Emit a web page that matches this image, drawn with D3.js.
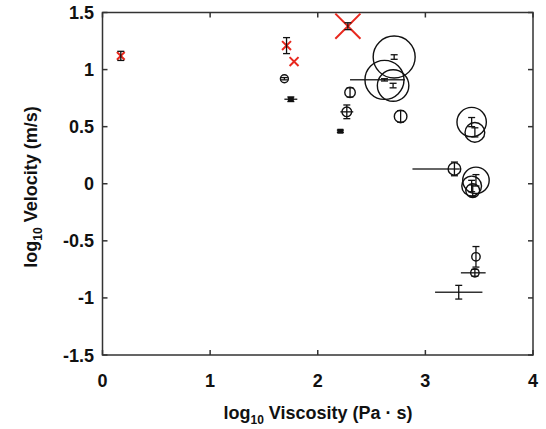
<!DOCTYPE html>
<html lang="en">
  <head>
    <meta charset="UTF-8" />
    <title>Velocity vs viscosity</title>
    <style>
      body { margin: 0; background: #fff; }
      text { font-family: "Liberation Sans", Arial, sans-serif; font-weight: bold; fill: #111; }
    </style>
    <script src="https://d3js.org/d3.v7.min.js"></script>
  </head>
  <body>
    <svg width="546" height="429"></svg>
    <script>
      // red crosses
      var crossVisc = [0.17, 1.71, 1.78, 2.28];
      var crossVel = [1.12, 1.21, 1.07, 1.38];
      var crossVelErr = [0.04, 0.07, 0.0, 0.03];
      var crossMag = [0.25, 0.3, 0.3, 1.0];

      // black points (kind: o = circle, s = small square, n = none)
      var ptVisc = [1.69, 1.75, 2.30, 2.27, 2.21, 2.71, 2.62, 2.70, 2.77, 3.43, 3.46, 3.27, 3.47, 3.43, 3.44, 3.47, 3.46, 3.31];
      var ptVel = [0.92, 0.74, 0.80, 0.63, 0.46, 1.11, 0.91, 0.86, 0.59, 0.54, 0.45, 0.13, 0.03, -0.02, -0.06, -0.64, -0.78, -0.95];
      var ptVelErr = [0.01, 0.02, 0.04, 0.06, 0.01, 0.02, 0.01, 0.02, 0.05, 0.04, 0.04, 0.06, 0.05, 0.05, 0.05, 0.09, 0.03, 0.06];
      var ptViscErrLo = [0, 0.06, 0, 0.06, 0, 0, 0.32, 0, 0, 0, 0, 0.39, 0, 0, 0, 0, 0.13, 0.22];
      var ptViscErrHi = [0, 0.06, 0, 0.06, 0, 0, 0.19, 0, 0, 0, 0, 0.05, 0, 0, 0, 0, 0.10, 0.22];
      var ptMag = [0.19, 0.1, 0.25, 0.23, 0.1, 1.0, 0.93, 0.75, 0.3, 0.7, 0.47, 0.3, 0.63, 0.47, 0.33, 0.2, 0.2, 0];
      var ptKind = ["o", "s", "o", "o", "s", "o", "o", "o", "o", "o", "o", "o", "o", "o", "o", "o", "o", "n"];

      var xTicks = [0, 1, 2, 3, 4];
      var yTicks = [-1.5, -1, -0.5, 0, 0.5, 1, 1.5];

      window.onload = function () {
        var svg = d3.select("svg");
        var pLeft = 102.5, pRight = 533, pTop = 12.5, pBottom = 355;

        var x = d3.scaleLinear().domain([0, 4]).range([pLeft, pRight]);
        var y = d3.scaleLinear().domain([-1.5, 1.5]).range([pBottom, pTop]);
        var r = d3.scaleLinear().domain([0, 1]).range([0, 21]);

        var ink = "#111";

        // frame + inward ticks
        var axisG = svg.append("g");
        axisG.append("rect")
          .attr("x", pLeft).attr("y", pTop)
          .attr("width", pRight - pLeft).attr("height", pBottom - pTop)
          .attr("fill", "none").attr("stroke", "#333").attr("stroke-width", 1.5);

        xTicks.forEach(function (t) {
          axisG.append("line").attr("x1", x(t)).attr("x2", x(t)).attr("y1", pBottom).attr("y2", pBottom - 5).attr("stroke", "#333").attr("stroke-width", 1.5);
          axisG.append("line").attr("x1", x(t)).attr("x2", x(t)).attr("y1", pTop).attr("y2", pTop + 5).attr("stroke", "#333").attr("stroke-width", 1.5);
          axisG.append("text").attr("x", x(t)).attr("y", 387).attr("text-anchor", "middle").attr("font-size", 18).text(t);
        });
        yTicks.forEach(function (t) {
          axisG.append("line").attr("x1", pLeft).attr("x2", pLeft + 5).attr("y1", y(t)).attr("y2", y(t)).attr("stroke", "#333").attr("stroke-width", 1.5);
          axisG.append("line").attr("x1", pRight).attr("x2", pRight - 5).attr("y1", y(t)).attr("y2", y(t)).attr("stroke", "#333").attr("stroke-width", 1.5);
          axisG.append("text").attr("x", 94).attr("y", y(t) + 6.5).attr("text-anchor", "end").attr("font-size", 18).text(t);
        });

        // axis titles
        var xt = svg.append("text").attr("x", 318).attr("y", 419).attr("text-anchor", "middle").attr("font-size", 18);
        xt.append("tspan").text("log");
        xt.append("tspan").attr("font-size", 12).attr("dy", 5).text("10");
        xt.append("tspan").attr("dy", -5).text(" Viscosity (Pa \u00b7 s)");

        var yt = svg.append("text").attr("transform", "translate(37,187) rotate(-90)").attr("text-anchor", "middle").attr("font-size", 18);
        yt.append("tspan").text("log");
        yt.append("tspan").attr("font-size", 12).attr("dy", 5).text("10");
        yt.append("tspan").attr("dy", -5).text(" Velocity (m/s)");

        var plot = svg.append("g");

        function errBar(cx, cy, e) {
          if (e <= 0) return;
          plot.append("line").attr("x1", x(cx)).attr("x2", x(cx)).attr("y1", y(cy - e)).attr("y2", y(cy + e)).attr("stroke", ink).attr("stroke-width", 1.3);
          [cy - e, cy + e].forEach(function (v) {
            plot.append("line").attr("x1", x(cx) - 3.5).attr("x2", x(cx) + 3.5).attr("y1", y(v)).attr("y2", y(v)).attr("stroke", ink).attr("stroke-width", 1.3);
          });
        }

        // black points
        ptVisc.forEach(function (v, i) {
          var cx = x(v), cy = y(ptVel[i]);
          if (ptViscErrLo[i] > 0 || ptViscErrHi[i] > 0) {
            plot.append("line").attr("x1", x(v - ptViscErrLo[i])).attr("x2", x(v + ptViscErrHi[i])).attr("y1", cy).attr("y2", cy).attr("stroke", "#333").attr("stroke-width", 1.5);
          }
          errBar(v, ptVel[i], ptVelErr[i]);
          if (ptKind[i] === "o") {
            plot.append("circle").attr("cx", cx).attr("cy", cy).attr("r", r(ptMag[i])).attr("fill", "none").attr("stroke", ink).attr("stroke-width", 1.4);
          } else if (ptKind[i] === "s") {
            plot.append("rect").attr("x", cx - 3).attr("y", cy - 2.5).attr("width", 6).attr("height", 5).attr("fill", ink);
          }
        });

        // red crosses
        crossVisc.forEach(function (v, i) {
          var cx = x(v), cy = y(crossVel[i]), s = r(crossMag[i]) * 0.55 + 1;
          plot.append("path")
            .attr("d", "M" + (cx - s) + "," + (cy - s) + "L" + (cx + s) + "," + (cy + s) + "M" + (cx - s) + "," + (cy + s) + "L" + (cx + s) + "," + (cy - s))
            .attr("stroke", "#e8281e").attr("stroke-width", 2).attr("fill", "none");
          errBar(v, crossVel[i], crossVelErr[i]);
        });
      };
    </script>
  </body>
</html>
